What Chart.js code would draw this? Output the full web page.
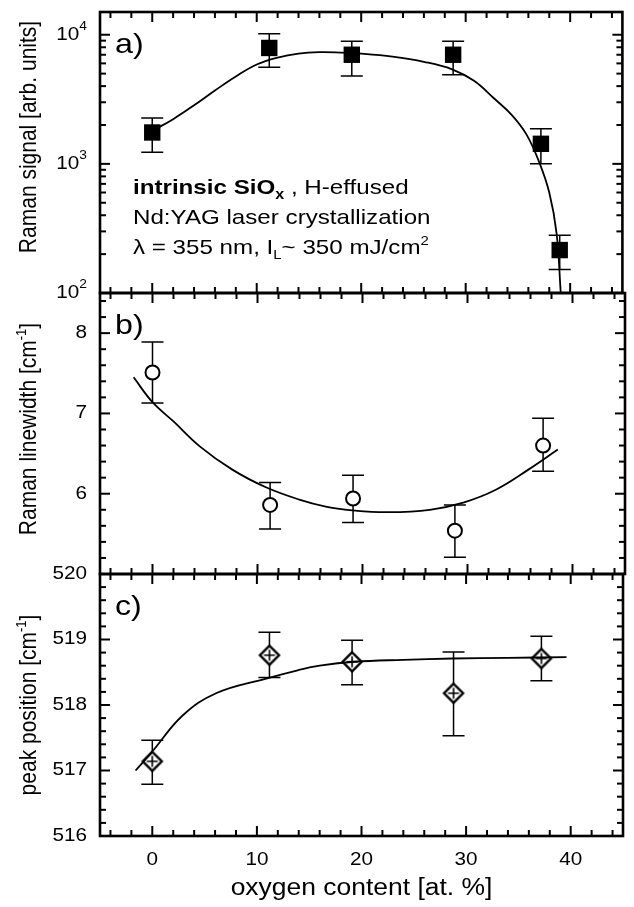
<!DOCTYPE html>
<html>
<head>
<meta charset="utf-8">
<script src="https://cdn.jsdelivr.net/npm/chart.js@4.4.1/dist/chart.umd.min.js"></script>
<style>
  body { margin: 0; background: #fff; }
  #wrap { position: relative; width: 634px; height: 907px; }
  #wrap canvas { position: absolute; left: 0; top: 0; }
</style>
</head>
<body>
<div id="wrap">
  <canvas id="chartA" width="634" height="907"></canvas>
  <canvas id="chartB" width="634" height="907"></canvas>
  <canvas id="chartC" width="634" height="907"></canvas>
</div>
<script>
// ---- data ----
// oxygen content [at. %] of the samples
const oxygenA = [0, 11.2, 19.1, 28.8, 37.2, 39.0];
const oxygenBC = [0, 11.2, 19.1, 28.8, 37.2];

// a) Raman signal [arb. units]
const ramanSignal = [1750, 7900, 7000, 7000, 1430, 215];
const ramanSignalLo = [1230, 5600, 4800, 4900, 1000, 152];
const ramanSignalHi = [2270, 10200, 8900, 8900, 1870, 280];
const fitAx = [0, 2, 4, 6, 8, 10, 12, 14, 16, 18, 20, 23, 26, 28.7, 30.8, 32.7, 34.4, 35.8, 37.0, 38.0, 38.7, 39.1];
const fitAy = [1800, 2220, 2840, 3700, 4750, 5880, 6650, 7140, 7330, 7280, 7140, 6760, 6170, 5400, 4400, 3220, 2400, 1700, 1050, 600, 290, 100];

// b) Raman linewidth [cm-1]
const linewidth = [7.51, 5.86, 5.94, 5.54, 6.60];
const linewidthLo = [7.13, 5.56, 5.64, 5.21, 6.28];
const linewidthHi = [7.89, 6.14, 6.23, 5.86, 6.94];
const fitBx = [-1.8, 0, 2.0, 4.5, 7.6, 10.8, 13.9, 16.5, 19.3, 22.4, 26.4, 29.6, 32.7, 35.8, 38.6];
const fitBy = [7.45, 7.14, 6.90, 6.59, 6.30, 6.08, 5.93, 5.84, 5.79, 5.77, 5.80, 5.89, 6.05, 6.30, 6.55];

// c) peak position [cm-1]
const peakPos = [517.14, 518.76, 518.66, 518.18, 518.71];
const peakPosLo = [516.79, 518.42, 518.31, 517.53, 518.37];
const peakPosHi = [517.46, 519.11, 518.99, 518.81, 519.05];
const fitCx = [-1.6, 0, 2.9, 6.1, 10.8, 13.9, 16.0, 19.3, 24.0, 28.7, 34.0, 39.6];
const fitCy = [517.00, 517.29, 517.84, 518.18, 518.40, 518.53, 518.60, 518.66, 518.69, 518.71, 518.72, 518.73];

// ticks
const xMajorTicks = [0, 10, 20, 30, 40];
const xTickLabels = ['0', '10', '20', '30', '40'];
const xMinorTicks = [-4, -2, 2, 4, 6, 8, 12, 14, 16, 18, 22, 24, 26, 28, 32, 34, 36, 38, 42, 44];
const yAMajor = [100, 1000, 10000];
const yAExponents = ['2', '3', '4'];
const yAMinor = [200, 300, 400, 500, 600, 700, 800, 900, 2000, 3000, 4000, 5000, 6000, 7000, 8000, 9000];
const yBMajor = [5, 6, 7, 8];
const yBLabelled = [6, 7, 8];
const yBMinor = [5.2, 5.4, 5.6, 5.8, 6.2, 6.4, 6.6, 6.8, 7.2, 7.4, 7.6, 7.8, 8.2, 8.4];
const yCMajor = [516, 517, 518, 519, 520];
const yCMinor = [516.2, 516.4, 516.6, 516.8, 517.2, 517.4, 517.6, 517.8, 518.2, 518.4, 518.6, 518.8, 519.2, 519.4, 519.6, 519.8];

const FONT = '"Liberation Sans", Arial, Helvetica, sans-serif';
const STRETCH = 1.15; // the printed lettering is a bit wider than Arial
const f = (size, bold) => (bold ? 'bold ' : '') + size + 'px ' + FONT;

function pts(xs, ys) { return xs.map((x, i) => ({ x: x, y: ys[i] })); }

// text made of runs with different fonts / offsets, stretched horizontally
function runsWidth(ctx, runs) {
  return runs.reduce((w, r) => { ctx.font = r.font; return w + ctx.measureText(r.text).width; }, 0);
}
function drawRuns(ctx, runs, x, y, align, sx, sy) {
  sx = sx || 1; sy = sy || 1;
  const w = runsWidth(ctx, runs);
  let cx = 0;
  if (align === 'center') cx = -w / 2;
  if (align === 'right') cx = -w;
  ctx.save();
  ctx.translate(x, y);
  ctx.scale(sx, sy);
  ctx.textAlign = 'left';
  runs.forEach(r => {
    ctx.font = r.font;
    ctx.fillText(r.text, cx, (r.dy || 0));
    cx += ctx.measureText(r.text).width;
  });
  ctx.restore();
}

function diamondCross() {
  const c = document.createElement('canvas');
  c.width = 24; c.height = 24;
  const g = c.getContext('2d');
  g.fillStyle = '#fff';
  g.strokeStyle = '#000';
  g.lineWidth = 2.4;
  g.beginPath();
  g.moveTo(12, 2.5); g.lineTo(21.5, 12); g.lineTo(12, 21.5); g.lineTo(2.5, 12);
  g.closePath(); g.fill(); g.stroke();
  g.lineWidth = 1.6;
  g.beginPath();
  g.moveTo(6.5, 12); g.lineTo(17.5, 12);
  g.moveTo(12, 6.5); g.lineTo(12, 17.5);
  g.stroke();
  return c;
}

// draws error bars, frame, inside ticks and all labels of one panel
function panelPlugin(p) {
  return {
    id: 'panel',
    beforeDatasetsDraw(chart) {
      const { ctx, scales: { x, y } } = chart;
      ctx.save();
      ctx.strokeStyle = '#000';
      ctx.lineWidth = 1.5;
      p.errX.forEach((v, i) => {
        const px = x.getPixelForValue(v);
        const lo = y.getPixelForValue(p.errLo[i]);
        const hi = y.getPixelForValue(p.errHi[i]);
        ctx.beginPath();
        ctx.moveTo(px, lo); ctx.lineTo(px, hi);
        ctx.moveTo(px - 11, lo); ctx.lineTo(px + 11, lo);
        ctx.moveTo(px - 11, hi); ctx.lineTo(px + 11, hi);
        ctx.stroke();
      });
      ctx.restore();
    },
    afterDraw(chart) {
      const { ctx, chartArea: a, scales: { x, y } } = chart;
      ctx.save();
      ctx.strokeStyle = '#000';
      ctx.fillStyle = '#000';
      const tick = (x0, y0, dx, dy) => {
        ctx.beginPath(); ctx.moveTo(x0, y0); ctx.lineTo(x0 + dx, y0 + dy); ctx.stroke();
      };
      ctx.lineWidth = 2;
      xMajorTicks.forEach(v => {
        const px = x.getPixelForValue(v);
        tick(px, a.bottom, 0, -10); tick(px, a.top, 0, 10);
      });
      xMinorTicks.forEach(v => {
        const px = x.getPixelForValue(v);
        tick(px, a.bottom, 0, -6); tick(px, a.top, 0, 6);
      });
      p.yMajor.forEach(v => {
        const py = y.getPixelForValue(v);
        tick(a.left, py, 10, 0); tick(a.right, py, -10, 0);
      });
      p.yMinor.forEach(v => {
        const py = y.getPixelForValue(v);
        tick(a.left, py, 6, 0); tick(a.right, py, -6, 0);
      });
      ctx.lineWidth = 2.6;
      ctx.strokeRect(a.left, a.top, a.right - a.left, a.bottom - a.top);

      // y tick labels
      ctx.textBaseline = 'middle';
      p.yLabels.forEach(l => {
        const py = y.getPixelForValue(l.v);
        drawRuns(ctx, l.runs, a.left - 13, py, 'right', STRETCH);
      });

      // panel letter
      ctx.textBaseline = 'alphabetic';
      drawRuns(ctx, [{ text: p.letter, font: f(28) }], a.left + 15, a.top + 41, 'left', STRETCH);

      // rotated y title
      ctx.save();
      ctx.translate(36, p.titleY);
      ctx.rotate(-Math.PI / 2);
      drawRuns(ctx, p.title, 0, 0, 'center', 1, STRETCH);
      ctx.restore();

      if (p.extra) p.extra(ctx, a, x, y);
      ctx.restore();
    }
  };
}

function makePanel(id, p) {
  return new Chart(document.getElementById(id), {
    type: 'scatter',
    data: {
      datasets: [
        {
          data: p.fit,
          showLine: true,
          borderColor: '#000',
          borderWidth: 1.8,
          pointRadius: 0,
          tension: 0.4,
          fill: false
        },
        {
          data: p.points,
          showLine: false,
          pointStyle: p.pointStyle,
          pointRadius: p.pointRadius,
          pointBackgroundColor: p.pointFill,
          pointBorderColor: '#000',
          pointBorderWidth: p.pointBorder,
          clip: false
        }
      ]
    },
    options: {
      responsive: false,
      animation: false,
      layout: { padding: p.padding },
      plugins: { legend: { display: false }, tooltip: { enabled: false } },
      scales: {
        x: { type: 'linear', min: -5, max: 45, display: false },
        y: Object.assign({ display: false }, p.yScale)
      }
    },
    plugins: [panelPlugin(p)]
  });
}

const tickFont = f(18);
const supFont = f(12);
const titleFont = f(21);

makePanel('chartA', {
  padding: { left: 100, right: 5, top: 12, bottom: 907 - 293 },
  yScale: { type: 'logarithmic', min: 100, max: 15000 },
  fit: pts(fitAx, fitAy),
  points: pts(oxygenA, ramanSignal),
  pointStyle: 'rect', pointRadius: 11.6, pointFill: '#000', pointBorder: 0,
  errX: oxygenA, errLo: ramanSignalLo, errHi: ramanSignalHi,
  yMajor: yAMajor, yMinor: yAMinor,
  yLabels: yAMajor.map((v, i) => ({ v: v, runs: [
    { text: '10', font: tickFont }, { text: yAExponents[i], font: supFont, dy: -8 }] })),
  letter: 'a)',
  titleY: 137,
  title: [{ text: 'Raman signal [arb. units]', font: titleFont }],
  extra(ctx) {
    ctx.textBaseline = 'alphabetic';
    const x0 = 133;
    drawRuns(ctx, [
      { text: 'intrinsic SiO', font: f(21, true) },
      { text: 'x', font: f(14, true), dy: 5 },
      { text: ' , H-effused', font: f(21) }
    ], x0, 194, 'left', STRETCH);
    drawRuns(ctx, [{ text: 'Nd:YAG laser crystallization', font: f(21) }], x0, 224, 'left', STRETCH);
    drawRuns(ctx, [
      { text: '\u03bb = 355 nm, I', font: f(21) },
      { text: 'L', font: f(13), dy: 5 },
      { text: '~ 350 mJ/cm', font: f(21) },
      { text: '2', font: f(13), dy: -9 }
    ], x0, 254, 'left', STRETCH);
  }
});

makePanel('chartB', {
  padding: { left: 100, right: 5, top: 293, bottom: 907 - 574 },
  yScale: { type: 'linear', min: 5, max: 8.5 },
  fit: pts(fitBx, fitBy),
  points: pts(oxygenBC, linewidth),
  pointStyle: 'circle', pointRadius: 7, pointFill: '#fff', pointBorder: 2,
  errX: oxygenBC, errLo: linewidthLo, errHi: linewidthHi,
  yMajor: yBMajor, yMinor: yBMinor,
  yLabels: yBLabelled.map(v => ({ v: v, runs: [{ text: String(v), font: tickFont }] })),
  letter: 'b)',
  titleY: 429,
  title: [
    { text: 'Raman linewidth [cm', font: titleFont },
    { text: '-1', font: f(13), dy: -9 },
    { text: ']', font: titleFont }
  ]
});

makePanel('chartC', {
  padding: { left: 100, right: 5, top: 574, bottom: 907 - 836 },
  yScale: { type: 'linear', min: 516, max: 520 },
  fit: pts(fitCx, fitCy),
  points: pts(oxygenBC, peakPos),
  pointStyle: diamondCross(), pointRadius: 9, pointFill: '#fff', pointBorder: 2,
  errX: oxygenBC, errLo: peakPosLo, errHi: peakPosHi,
  yMajor: yCMajor, yMinor: yCMinor,
  yLabels: yCMajor.map(v => ({ v: v, runs: [{ text: String(v), font: tickFont }] })),
  letter: 'c)',
  titleY: 705,
  title: [
    { text: 'peak position [cm', font: titleFont },
    { text: '-1', font: f(13), dy: -9 },
    { text: ']', font: titleFont }
  ],
  extra(ctx, a, x) {
    ctx.textBaseline = 'alphabetic';
    xMajorTicks.forEach((v, i) => {
      drawRuns(ctx, [{ text: xTickLabels[i], font: tickFont }], x.getPixelForValue(v), 865, 'center', STRETCH);
    });
    drawRuns(ctx, [{ text: 'oxygen content [at. %]', font: f(23) }], (a.left + a.right) / 2, 895, 'center', STRETCH);
  }
});
</script>
</body>
</html>
